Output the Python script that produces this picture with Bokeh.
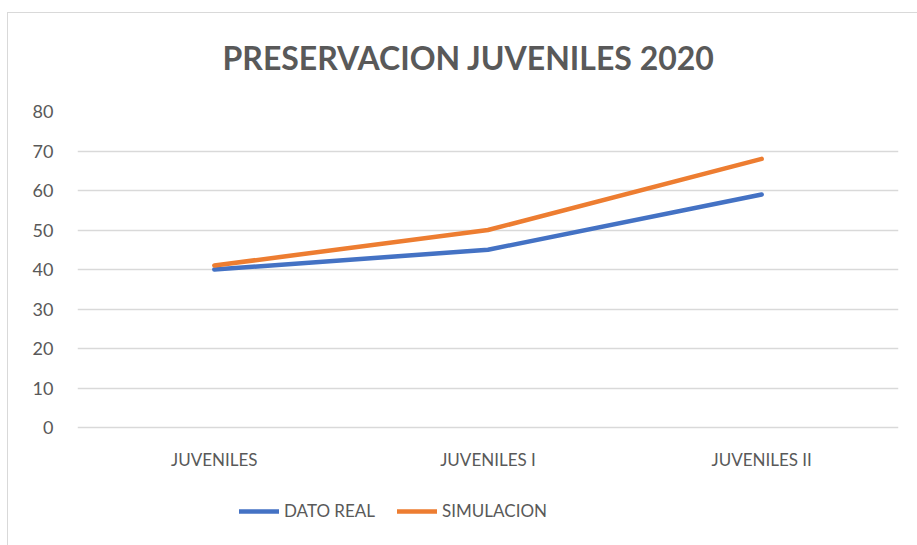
from bokeh.plotting import figure
from bokeh.models import Legend, LegendItem, FixedTicker, Range1d
from bokeh.core.properties import value
from bokeh.embed import file_html
from bokeh.resources import INLINE

categories = ["JUVENILES", "JUVENILES I", "JUVENILES II"]
dato_real = [40, 45, 59]
simulacion = [41, 50, 68]
y_ticks = [0, 10, 20, 30, 40, 50, 60, 70, 80]
series_names = ["DATO REAL", "SIMULACION"]

FONT = "Lato"
GREY = "#595959"
BLUE = "#4472C4"
ORANGE = "#ED7D31"
BORDER = "#D9D9D9"

# pixel layout (frame covers the grid area plus the strip below it for labels/legend)
GRID_PX = 316        # height of 0..80
BELOW_PX = 108       # strip below the 0 line
y_start = -y_ticks[-1] * BELOW_PX / GRID_PX

p = figure(x_range=categories, y_range=Range1d(y_start, y_ticks[-1]), width=910, height=545,
           output_backend="svg", toolbar_location=None,
           min_border_left=70, min_border_right=19, min_border_top=111, min_border_bottom=10)
p.x_range.range_padding = 0
p.border_fill_alpha = 0
p.styles = {"position": "relative", "left": "7px",
            "background": (f"linear-gradient({BORDER},{BORDER}) 0 12px / 100% 1px no-repeat, "
                           f"linear-gradient({BORDER},{BORDER}) 0 12px / 1px 100% no-repeat, #FFFFFF")}

p.title.text = "PRESERVACION JUVENILES 2020"
p.title.align = "left"
p.title.offset = 145
p.title.text_font = FONT
p.title.text_font_size = "32px"
p.title.text_font_style = "bold"
p.title.text_color = GREY
p.title.standoff = 69

r1 = p.line(categories, dato_real, line_color=BLUE, line_width=4.5, line_cap="round", line_join="round")
r2 = p.line(categories, simulacion, line_color=ORANGE, line_width=4.5, line_cap="round", line_join="round")

# category labels under the 0 line
p.text(x=categories, y=[y_ticks[0]] * len(categories), text=categories, y_offset=32,
       text_align="center", text_baseline="middle", text_font=value(FONT),
       text_font_size="17px", text_color=GREY)

p.outline_line_color = None
p.xgrid.grid_line_color = None
p.ygrid.grid_line_color = "#D9D9D9"
p.ygrid.grid_line_width = 1.3
p.yaxis.ticker = FixedTicker(ticks=y_ticks)
p.xaxis.visible = False

p.yaxis.axis_line_color = None
p.yaxis.major_tick_line_color = None
p.yaxis.minor_tick_line_color = None
p.yaxis.major_label_text_font = FONT
p.yaxis.major_label_text_color = GREY
p.yaxis.major_label_text_font_size = "18px"
p.yaxis.major_label_standoff = 18

legend = Legend(items=[LegendItem(label=series_names[0], renderers=[r1]),
                       LegendItem(label=series_names[1], renderers=[r2])],
                orientation="horizontal", location=(162, 14),
                label_text_font=FONT, label_text_font_size="17px", label_text_color=GREY,
                glyph_width=40, glyph_height=20, label_standoff=5, spacing=22,
                border_line_color=None, background_fill_alpha=0, margin=0, padding=4)
p.add_layout(legend)

open("out.html", "w").write(file_html(p, INLINE))
